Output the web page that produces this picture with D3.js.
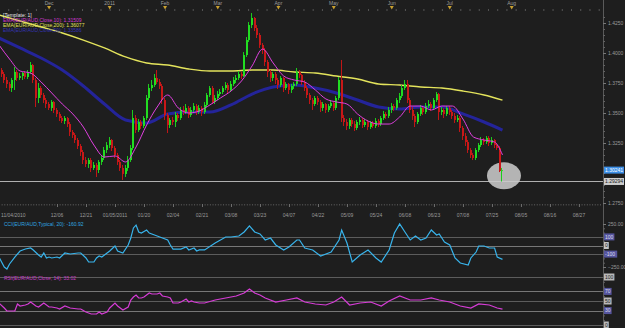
<!DOCTYPE html>
<html>
<head>
<meta charset="utf-8">
<script src="https://cdn.jsdelivr.net/npm/d3@7"></script>
<style>
html, body { margin: 0; padding: 0; background: #1e1e1e; overflow: hidden; }
svg { display: block; font-family: "Liberation Sans", Arial, sans-serif; }
</style>
</head>
<body>
<svg width="625" height="328"></svg>
<script>
// EUR/AUD daily, 11/04/2010 .. end of July 2011
var firstOpen = 1.4050;
var closes = [1.3858,1.3825,1.3775,1.3742,1.3708,1.3775,1.3842,1.3792,1.3808,1.3833,
  1.3800,1.3842,1.3900,1.3775,1.3625,1.3708,1.3650,1.3608,1.3575,1.3542,
  1.3592,1.3525,1.3492,1.3458,1.3433,1.3458,1.3408,1.3342,1.3317,1.3275,
  1.3225,1.3175,1.3108,1.3075,1.3108,1.3042,1.3067,1.3025,1.3092,1.3125,
  1.3192,1.3233,1.3275,1.3208,1.3150,1.3092,1.3042,1.2992,1.3042,1.3108,
  1.3208,1.3458,1.3358,1.3425,1.3392,1.3458,1.3625,1.3708,1.3733,1.3792,
  1.3758,1.3725,1.3608,1.3483,1.3400,1.3442,1.3425,1.3483,1.3458,1.3525,
  1.3508,1.3542,1.3483,1.3525,1.3558,1.3508,1.3542,1.3508,1.3567,1.3650,
  1.3708,1.3592,1.3625,1.3658,1.3675,1.3708,1.3733,1.3692,1.3742,1.3775,
  1.3792,1.3825,1.3808,1.3983,1.4108,1.4233,1.4292,1.4208,1.4150,1.4067,
  1.4025,1.3925,1.3842,1.3792,1.3825,1.3775,1.3733,1.3792,1.3708,1.3742,
  1.3692,1.3725,1.3742,1.3842,1.3817,1.3758,1.3708,1.3650,1.3608,1.3575,
  1.3625,1.3592,1.3542,1.3575,1.3525,1.3558,1.3583,1.3542,1.3625,1.3775,
  1.3458,1.3425,1.3392,1.3442,1.3408,1.3375,1.3425,1.3442,1.3400,1.3425,
  1.3383,1.3417,1.3392,1.3433,1.3408,1.3458,1.3492,1.3475,1.3525,1.3558,
  1.3542,1.3608,1.3642,1.3708,1.3742,1.3608,1.3525,1.3475,1.3425,1.3492,
  1.3542,1.3508,1.3558,1.3575,1.3542,1.3608,1.3658,1.3508,1.3525,1.3492,
  1.3542,1.3508,1.3475,1.3442,1.3458,1.3375,1.3308,1.3258,1.3192,1.3150,
  1.3125,1.3192,1.3233,1.3275,1.3258,1.3292,1.3250,1.3275,1.3233,1.3208,
  1.3017,1.30241];
var highs = [1.4067,1.3875,1.3842,1.3800,1.3758,1.3792,1.3883,1.3858,1.3833,1.3842,
  1.3850,1.3858,1.3925,1.3908,1.3792,1.3750,1.3725,1.3667,1.3625,1.3592,
  1.3608,1.3600,1.3542,1.3508,1.3475,1.3475,1.3467,1.3425,1.3358,1.3333,
  1.3292,1.3242,1.3192,1.3133,1.3125,1.3125,1.3092,1.3083,1.3108,1.3150,
  1.3217,1.3258,1.3300,1.3283,1.3225,1.3167,1.3108,1.3067,1.3067,1.3142,
  1.3233,1.3525,1.3483,1.3450,1.3442,1.3475,1.3650,1.3742,1.3775,1.3825,
  1.3858,1.3783,1.3742,1.3625,1.3500,1.3458,1.3467,1.3508,1.3500,1.3550,
  1.3558,1.3575,1.3558,1.3550,1.3583,1.3575,1.3567,1.3558,1.3592,1.3667,
  1.3725,1.3725,1.3650,1.3683,1.3700,1.3725,1.3758,1.3750,1.3767,1.3800,
  1.3817,1.3850,1.3842,1.4008,1.4133,1.4258,1.4333,1.4300,1.4233,1.4167,
  1.4083,1.4042,1.3942,1.3858,1.3842,1.3842,1.3792,1.3808,1.3800,1.3758,
  1.3750,1.3742,1.3758,1.3875,1.3858,1.3825,1.3775,1.3725,1.3667,1.3625,
  1.3642,1.3642,1.3608,1.3592,1.3583,1.3575,1.3608,1.3600,1.3642,1.3800,
  1.3942,1.3483,1.3450,1.3458,1.3458,1.3433,1.3442,1.3467,1.3458,1.3450,
  1.3442,1.3433,1.3433,1.3458,1.3450,1.3475,1.3517,1.3508,1.3550,1.3583,
  1.3575,1.3625,1.3667,1.3733,1.3775,1.3775,1.3625,1.3550,1.3492,1.3508,
  1.3567,1.3558,1.3583,1.3608,1.3592,1.3625,1.3675,1.3667,1.3550,1.3542,
  1.3558,1.3558,1.3525,1.3500,1.3483,1.3475,1.3392,1.3333,1.3275,1.3208,
  1.3167,1.3208,1.3250,1.3300,1.3292,1.3308,1.3308,1.3300,1.3283,1.3250,
  1.3225,1.3042];
var lows = [1.3833,1.3800,1.3750,1.3708,1.3683,1.3675,1.3692,1.3767,1.3775,1.3775,
  1.3783,1.3783,1.3825,1.3750,1.3550,1.3583,1.3625,1.3583,1.3542,1.3525,
  1.3517,1.3500,1.3467,1.3433,1.3417,1.3408,1.3383,1.3308,1.3292,1.3250,
  1.3200,1.3142,1.3075,1.3050,1.3042,1.3008,1.3025,1.2967,1.3000,1.3067,
  1.3108,1.3167,1.3208,1.3183,1.3125,1.3067,1.3017,1.2942,1.2967,1.3017,
  1.3092,1.3192,1.3333,1.3342,1.3367,1.3375,1.3442,1.3608,1.3683,1.3717,
  1.3742,1.3700,1.3575,1.3442,1.3333,1.3375,1.3400,1.3383,1.3433,1.3442,
  1.3483,1.3492,1.3458,1.3467,1.3508,1.3483,1.3492,1.3475,1.3492,1.3550,
  1.3633,1.3575,1.3575,1.3608,1.3642,1.3658,1.3692,1.3667,1.3675,1.3725,
  1.3750,1.3775,1.3783,1.3800,1.3967,1.4092,1.4208,1.4183,1.4125,1.4042,
  1.3992,1.3892,1.3800,1.3758,1.3767,1.3742,1.3700,1.3717,1.3675,1.3692,
  1.3658,1.3667,1.3700,1.3725,1.3792,1.3733,1.3683,1.3625,1.3575,1.3525,
  1.3558,1.3567,1.3508,1.3517,1.3500,1.3508,1.3542,1.3517,1.3525,1.3608,
  1.3425,1.3392,1.3358,1.3367,1.3383,1.3350,1.3358,1.3400,1.3375,1.3383,
  1.3358,1.3367,1.3375,1.3375,1.3383,1.3392,1.3442,1.3450,1.3458,1.3500,
  1.3517,1.3525,1.3583,1.3625,1.3692,1.3583,1.3500,1.3442,1.3383,1.3408,
  1.3475,1.3483,1.3492,1.3542,1.3517,1.3525,1.3592,1.3442,1.3483,1.3458,
  1.3475,1.3483,1.3450,1.3417,1.3425,1.3342,1.3275,1.3225,1.3167,1.3125,
  1.3108,1.3108,1.3175,1.3217,1.3233,1.3242,1.3225,1.3233,1.3208,1.3192,
  1.3008,1.29294];

// moving averages, one reading every 4 / 8 bars (last one on the last bar)
var ema10 = [1.4067,1.3950,1.3850,1.3833,1.3758,1.3667,1.3575,1.3492,1.3383,1.3233,
  1.3133,1.3142,1.3092,1.3217,1.3400,1.3550,1.3650,1.3542,1.3500,1.3517,
  1.3567,1.3625,1.3683,1.3767,1.3892,1.4033,1.3917,1.3808,1.3775,1.3758,
  1.3692,1.3617,1.3592,1.3575,1.3492,1.3433,1.3408,1.3408,1.3467,1.3558,
  1.3558,1.3525,1.3558,1.3558,1.3450,1.3300,1.3275,1.3258,1.31509];
var ema50 = [1.4125,1.4042,1.3958,1.3858,1.3725,1.3575,1.3442,1.3417,1.3492,1.3508,
  1.3508,1.3567,1.3658,1.3717,1.3733,1.3708,1.3667,1.3608,1.3550,1.3533,
  1.3550,1.3550,1.3492,1.3425,1.3358];
var ema200 = [1.4317,1.4267,1.4217,1.4167,1.4108,1.4042,1.3967,1.3917,1.3900,1.3867,
  1.3850,1.3850,1.3858,1.3858,1.3842,1.3833,1.3808,1.3783,1.3742,1.3733,
  1.3717,1.3708,1.3683,1.3650,1.36077];

// CCI(20) and RSI(14) readings: bar index, value
var cciBars = [0,2,3,4,6,8,10,12,13,15,16,17,18,19,20,22,23,25,27,30,31,33,34,36,37,38,39,41,42,44,
  45,47,49,50,51,52,53,54,56,57,59,61,64,65,66,69,71,72,74,75,76,78,82,86,88,91,93,95,97,99,
  101,103,105,108,110,113,114,116,119,122,126,129,130,132,134,137,140,143,145,148,150,152,154,156,158,160,162,164,166,167,
  169,171,173,175,178,179,181,182,184,186,188,189,191];
var cciVals = [-134,-250,-273,-215,-134,-64,-41,-29,-52,-110,-134,-87,-145,-134,-145,-134,-145,-87,-99,-87,
  -87,-145,-192,-192,-145,-122,-134,-87,-64,-6,-64,-87,6,87,204,238,157,145,180,145,
  122,99,64,6,-41,-41,-17,-52,-29,-64,-52,-52,29,99,99,110,157,227,157,134,
  64,87,6,-52,-17,64,64,-29,-52,-122,-76,64,180,29,-192,-110,-52,-145,-192,-52,
  145,250,157,64,110,64,87,180,122,134,41,6,-145,-204,-227,-145,-76,-6,-6,-29,
  -29,-134,-160.92];
var rsiBars = [0,2,3,5,6,7,8,10,11,12,14,15,16,17,19,20,22,23,25,27,30,31,33,35,37,38,39,41,42,44,
  45,47,49,50,51,52,53,54,55,57,58,60,61,62,64,65,66,68,69,71,72,73,74,76,78,82,86,90,93,95,
  97,99,101,105,109,113,116,120,124,127,130,133,137,141,145,148,152,156,160,164,167,171,175,179,182,186,189,191];
var rsiVals = [45.8,35.4,29.2,29.2,29.2,43.8,39.6,41.7,43.8,47.9,39.6,37.5,41.7,45.8,37.5,37.5,35.4,33.3,39.6,35.4,
  33.3,33.3,27.1,22.9,22.9,27.1,22.9,27.1,35.4,45.8,39.6,31.3,37.5,52.1,58.3,62.5,56.3,56.3,58.3,66.7,
  64.6,64.6,66.7,60.4,58.3,56.3,45.8,45.8,47.9,54.2,47.9,50.0,47.9,45.8,45.8,52.1,56.3,60.4,66.7,75.0,
  66.7,62.5,56.3,47.9,52.1,56.3,47.9,43.8,41.7,47.9,58.3,41.7,45.8,47.9,39.6,50.0,60.4,52.1,52.1,56.3,
  52.1,47.9,39.6,35.4,43.8,41.7,35.4,33.02];

// axis labels
var dateBars = [0,22,33,44,55,66,77,88,99,110,121,132,143,154,165,176,187,198,209,220];
var dateLabels = ["11/04/2010","12/06","12/21","01/05/2011","01/20","02/04","02/21","03/08","03/23","04/07",
  "04/22","05/09","05/24","06/08","06/23","07/08","07/25","08/05","08/16","08/27"];
var monthBars = [19,42,63,83,106,127,149,171,194.5];
var monthLabels = ["Dec","2011","Feb","Mar","Apr","May","Jun","Jul","Aug"];
var priceTicks = [1.275,1.325,1.35,1.375,1.40,1.425];
var cciLevels = [100, 0, -100];
var rsiLevels = [100, 70, 50, 30, 0];

var svg = d3.select('svg');
var plotRight = 603;
var txt = '#9a9a9a';
var tickCol = '#626262';

var x = d3.scaleLinear().domain([0, 220]).range([-1, -1 + 220 * 2.636]);
var y = d3.scaleLinear().domain([1.274167, 1.434167]).range([204, 12]);
var yCci = d3.scaleLinear().domain([-250, 250]).range([267, 224]);
var yRsi = d3.scaleLinear().domain([0, 100]).range([325, 277]);

svg.append('rect').attr('width', 625).attr('height', 328).attr('fill', '#1e1e1e');

var defs = svg.append('defs');
defs.append('clipPath').attr('id', 'pclip').append('rect')
  .attr('x', 0).attr('y', 12).attr('width', plotRight).attr('height', 192);
defs.append('clipPath').attr('id', 'lclip').append('rect')
  .attr('x', 0).attr('y', 221).attr('width', plotRight).attr('height', 107);

var lastBar = closes.length - 1;
var bars = closes.map(function(c, i) {
  var o = i === 0 ? firstOpen : closes[i - 1];
  return {i: i, o: o, c: c, h: Math.max(highs[i], o, c), l: Math.min(lows[i], o, c)};
});

// ---- price pane
var price = svg.append('g').attr('clip-path', 'url(#pclip)');

var lastLow = lows[lastBar];
price.append('line')
  .attr('x1', 0).attr('x2', plotRight)
  .attr('y1', Math.round(y(lastLow)) + 0.5).attr('y2', Math.round(y(lastLow)) + 0.5)
  .attr('stroke', '#b0b0b0').attr('stroke-width', 1);

price.append('ellipse')
  .attr('cx', x(lastBar) + 1.5)
  .attr('cy', y((closes[lastBar] + lastLow) / 2))
  .attr('rx', 17).attr('ry', 13.5)
  .attr('fill', '#cacaca').attr('fill-opacity', 0.88);

function emaPoints(vals, step) {
  return vals.map(function(v, k) { return {i: Math.min(k * step, lastBar), v: v}; });
}
var emaLine = d3.line().x(function(d) { return x(d.i); }).y(function(d) { return y(d.v); })
  .curve(d3.curveMonotoneX);

price.append('path').datum(emaPoints(ema200, 8)).attr('d', emaLine)
  .attr('fill', 'none').attr('stroke', '#e4e45c').attr('stroke-width', 1.4);
price.append('path').datum(emaPoints(ema50, 8)).attr('d', emaLine)
  .attr('fill', 'none').attr('stroke', '#24249a').attr('stroke-width', 3);

var candles = price.selectAll('g.candle').data(bars).join('g').attr('class', 'candle');
candles.append('rect')
  .attr('x', function(d) { return Math.round(x(d.i)) - 1; })
  .attr('width', 1)
  .attr('y', function(d) { return y(d.h); })
  .attr('height', function(d) { return Math.max(1, y(d.l) - y(d.h)); })
  .attr('fill', function(d) { return d.c >= d.o ? '#1ccc1c' : '#c01616'; });
candles.append('rect')
  .attr('x', function(d) { return Math.round(x(d.i)) - 1; })
  .attr('width', 2)
  .attr('y', function(d) { return y(Math.max(d.o, d.c)); })
  .attr('height', function(d) { return Math.max(1, Math.abs(y(d.o) - y(d.c))); })
  .attr('fill', function(d) { return d.c >= d.o ? '#22dd22' : '#c81818'; });

price.append('path').datum(emaPoints(ema10, 4)).attr('d', emaLine)
  .attr('fill', 'none').attr('stroke', '#e040e0').attr('stroke-width', 1);

// legend
var legend = [
  {t: '[Template: 1]', c: '#e6e6e6'},
  {t: 'EMA(EUR/AUD,Close,10): 1.31509', c: '#d23ad2'},
  {t: 'EMA(EUR/AUD,Close,200): 1.36077', c: '#e0e05a'},
  {t: 'EMA(EUR/AUD,Close,50): 1.33586', c: '#3434b4'}
];
svg.selectAll('text.leg').data(legend).join('text').attr('class', 'leg')
  .attr('x', 3).attr('y', function(d, i) { return 16.5 + i * 5; })
  .attr('font-size', 5).attr('fill', function(d) { return d.c; })
  .text(function(d) { return d.t; });

// ---- top month axis
var monthAxis = svg.append('g');
monthAxis.append('g').attr('transform', 'translate(0,9)')
  .call(d3.axisBottom(x).tickValues(d3.range(0, 229, 3.5)).tickSize(2).tickFormat(''))
  .call(function(g) { g.select('.domain').remove(); g.selectAll('line').attr('stroke', '#555'); });
monthAxis.selectAll('text.mon').data(monthBars).join('text').attr('class', 'mon')
  .attr('x', function(d) { return x(d); }).attr('y', 5)
  .attr('text-anchor', 'middle').attr('font-size', 5).attr('fill', txt)
  .text(function(d, i) { return monthLabels[i]; });
monthAxis.selectAll('path.mark').data(monthBars).join('path').attr('class', 'mark')
  .attr('d', function(d) { var cx = x(d); return 'M' + (cx - 2) + ',6L' + (cx + 2) + ',6L' + cx + ',9.5Z'; })
  .attr('fill', '#c9a030');

// ---- date axis
var dax = svg.append('g').attr('transform', 'translate(0,204)');
dax.call(d3.axisBottom(x).tickValues(d3.range(0, 229)).tickSize(1.5).tickFormat(''))
  .call(function(g) { g.select('.domain').remove(); g.selectAll('line').attr('stroke', '#505050'); });
dax.append('g')
  .call(d3.axisBottom(x).tickValues(dateBars).tickSize(3).tickFormat(''))
  .call(function(g) { g.select('.domain').remove(); g.selectAll('line').attr('stroke', '#707070'); });
dax.selectAll('text.dl').data(dateBars).join('text').attr('class', 'dl')
  .attr('x', function(d, i) { return i === 0 ? 1 : x(d); }).attr('y', 12.5)
  .attr('text-anchor', function(d, i) { return i === 0 ? 'start' : 'middle'; })
  .attr('font-size', 5).attr('fill', txt)
  .text(function(d, i) { return dateLabels[i]; });

// ---- CCI / RSI panes
var lower = svg.append('g').attr('clip-path', 'url(#lclip)');
lower.selectAll('line.cl').data(cciLevels).join('line').attr('class', 'cl')
  .attr('x1', 0).attr('x2', plotRight)
  .attr('y1', function(d) { return Math.round(yCci(d)) + 0.5; })
  .attr('y2', function(d) { return Math.round(yCci(d)) + 0.5; })
  .attr('stroke', function(d) { return d === 0 ? '#777' : '#5c5c5c'; });
lower.selectAll('line.rl').data(rsiLevels).join('line').attr('class', 'rl')
  .attr('x1', 0).attr('x2', plotRight)
  .attr('y1', function(d) { return Math.round(yRsi(d)) + 0.5; })
  .attr('y2', function(d) { return Math.round(yRsi(d)) + 0.5; })
  .attr('stroke', function(d) { return d === 70 || d === 30 ? '#777' : '#5c5c5c'; });

var cciLine = d3.line().x(function(d) { return x(d[0]); }).y(function(d) { return yCci(d[1]); });
lower.append('path').datum(d3.zip(cciBars, cciVals)).attr('d', cciLine)
  .attr('fill', 'none').attr('stroke', '#38b4ec').attr('stroke-width', 1.2);
var rsiLine = d3.line().x(function(d) { return x(d[0]); }).y(function(d) { return yRsi(d[1]); });
lower.append('path').datum(d3.zip(rsiBars, rsiVals)).attr('d', rsiLine)
  .attr('fill', 'none').attr('stroke', '#d63cd6').attr('stroke-width', 1.2);

svg.append('text').attr('x', 4).attr('y', 225.5).attr('font-size', 5).attr('fill', '#30a8e0')
  .text('CCI(EUR/AUD,Typical, 20): -160.92');
svg.append('text').attr('x', 4).attr('y', 279.5).attr('font-size', 5).attr('fill', '#c83cc8')
  .text('RSI(EUR/AUD,Close, 14): 33.02');

// ---- right axes
var right = svg.append('g').attr('transform', 'translate(' + plotRight + ',0)');
right.append('line').attr('x1', 0.5).attr('x2', 0.5).attr('y1', 0).attr('y2', 328).attr('stroke', '#5a5a5a');
right.append('g')
  .call(d3.axisRight(y).tickValues(d3.range(1.275, 1.4326, 0.005)).tickSize(2).tickFormat(''))
  .call(function(g) { g.select('.domain').remove(); g.selectAll('line').attr('stroke', tickCol); });
right.append('g')
  .call(d3.axisRight(y).tickValues(priceTicks).tickSize(3).tickPadding(2).tickFormat(d3.format('.4f')))
  .call(function(g) {
    g.select('.domain').remove();
    g.selectAll('line').attr('stroke', '#777');
    g.selectAll('text').attr('font-size', 5).attr('fill', txt).attr('font-family', null);
  });
right.append('g')
  .call(d3.axisRight(yCci).tickValues(d3.range(-250, 251, 50)).tickSize(2).tickFormat(''))
  .call(function(g) { g.select('.domain').remove(); g.selectAll('line').attr('stroke', tickCol); });
right.append('g')
  .call(d3.axisRight(yCci).tickValues([-250, 250]).tickSize(3).tickPadding(2).tickFormat(d3.format('.2f')))
  .call(function(g) {
    g.select('.domain').remove();
    g.selectAll('line').attr('stroke', '#777');
    g.selectAll('text').attr('font-size', 5).attr('fill', txt).attr('font-family', null);
  });
right.append('g')
  .call(d3.axisRight(yRsi).tickValues(d3.range(0, 101, 10)).tickSize(2).tickFormat(''))
  .call(function(g) { g.select('.domain').remove(); g.selectAll('line').attr('stroke', tickCol); });

function tag(g, yy, label, fill, color, w) {
  g.append('rect').attr('x', 1).attr('y', yy - 3.5).attr('width', w).attr('height', 7).attr('fill', fill);
  g.append('text').attr('x', 2).attr('y', yy + 1.8).attr('font-size', 5).attr('fill', color).text(label);
}
tag(right, y(closes[lastBar]), d3.format('.5f')(closes[lastBar]), '#3d8fe6', '#ffffff', 20);
tag(right, y(lastLow), d3.format('.5f')(lastLow), '#cdcdcd', '#222', 20);
cciLevels.forEach(function(v) {
  var lbl = String(v);
  tag(right, yCci(v), lbl, v === 0 ? '#c4c4c4' : '#55559e', v === 0 ? '#222' : '#dde', lbl.length * 2.8 + 2);
});
rsiLevels.forEach(function(v) {
  var lbl = String(v);
  var blue = v === 70 || v === 30;
  tag(right, yRsi(v), lbl, blue ? '#55559e' : '#b8b8b8', blue ? '#dde' : '#222', lbl.length * 2.8 + 2);
});
</script>
</body>
</html>
